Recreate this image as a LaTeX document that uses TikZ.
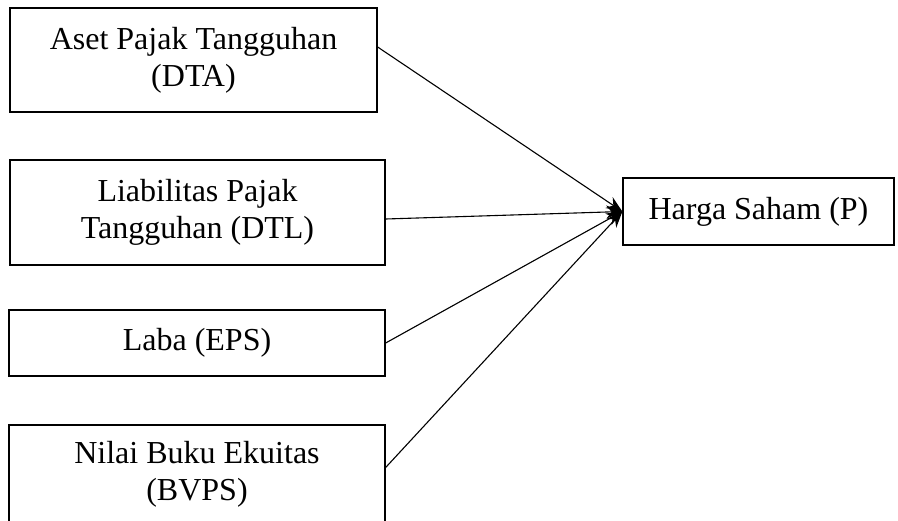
\documentclass[tikz,border=0pt]{standalone}
\usepackage{fontspec}
\setmainfont{Liberation Serif}
\usetikzlibrary{arrows.meta}

\begin{document}
\begin{tikzpicture}[x=0.5pt,y=-0.5pt,
    varbox/.style={draw, line width=0.65pt, align=center, inner sep=0pt,
        font=\fontsize{16}{18.5}\selectfont},
    link/.style={line width=0.55pt, -{Stealth[length=8pt,width=6.5pt]}}]

\useasboundingbox (0,0) rectangle (898,520);

% Independent variables
\node[varbox, minimum width=183.5pt, minimum height=52pt] (dta) at (193.5,60)
    {Aset Pajak Tangguhan\\(DTA)};
\node[varbox, minimum width=187.5pt, minimum height=52.5pt] (dtl) at (197.5,212.5)
    {Liabilitas Pajak\\Tangguhan (DTL)};
\node[varbox, minimum width=188pt, minimum height=33pt] (eps) at (197,343)
    {Laba (EPS)};
\node[varbox, minimum width=188pt, minimum height=49pt] (bvps) at (197,474)
    {Nilai Buku Ekuitas\\(BVPS)};

% Dependent variable
\node[varbox, minimum width=135.5pt, minimum height=33.5pt] (price) at (758.5,211.5)
    {Harga Saham (P)};

% Relations
\draw[link] ([yshift=6.5pt]dta.east) -- (price.west);
\draw[link] ([yshift=-3.25pt]dtl.east) -- (price.west);
\draw[link] (eps.east) -- (price.west);
\draw[link] ([yshift=3.25pt]bvps.east) -- (price.west);

\end{tikzpicture}
\end{document}
